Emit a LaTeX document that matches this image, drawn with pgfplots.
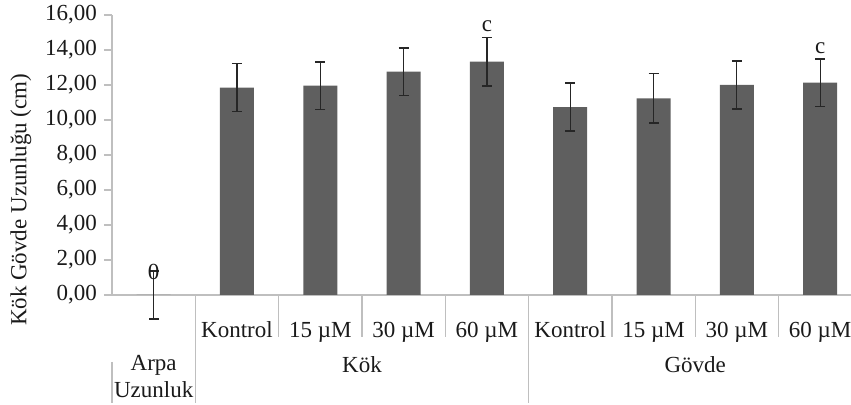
\documentclass[border=0pt]{standalone}
\usepackage{pgfplots}
\pgfplotsset{compat=1.18}
\usepackage{fontspec}
\setmainfont{Liberation Serif}
\definecolor{barc}{HTML}{5F5F5F}
\definecolor{gridc}{HTML}{BFBFBF}
\definecolor{txt}{HTML}{1A1A1A}
\begin{document}
\begin{tikzpicture}[font=\fontsize{11.5}{13.5}\selectfont, text=txt]
\begin{axis}[
  scale only axis, width=369.5pt, height=140pt,
  xmin=-0.5, xmax=8.37, ymin=0, ymax=16,
  clip=false,
  axis x line=bottom, axis y line=left,
  axis line style={-, draw=gridc, line width=0.6pt},
  ytick={0,2,...,16},
  tick align=outside, major tick length=4pt,
  ytick style={draw=gridc, line width=0.6pt},
  xtick={1,...,8},
  xticklabels={Kontrol,15 µM,30 µM,60 µM,Kontrol,15 µM,30 µM,60 µM},
  xtick style={draw=none},
  xticklabel style={anchor=base, yshift=-17.5pt},
  /pgf/number format/assume math mode=true,
  yticklabel style={/pgf/number format/fixed, /pgf/number format/fixed zerofill, /pgf/number format/precision=2, /pgf/number format/use comma},
  ylabel={Kök Gövde Uzunluğu (cm)},
  ylabel style={at={(ticklabel cs:0.34)}},
  ybar=0pt, bar width=17pt,
]
\coordinate (bl) at (rel axis cs:0,0);
\addplot[fill=barc, draw=none,
  error bars/.cd, y dir=both, y explicit,
  error bar style={draw=black!85, line width=0.6pt},
  error mark options={rotate=90, mark size=2.5pt, draw=black!85, line width=0.6pt}]
  table[x=x, y=y, y error=e] {
x y e
0 0 1.37
1 11.85 1.36
2 11.96 1.35
3 12.76 1.35
4 13.33 1.39
5 10.74 1.37
6 11.24 1.41
7 12.00 1.37
8 12.13 1.36
};
\node at (axis cs:0,1.31) {0};
\node[anchor=south, inner sep=2.5pt] at (axis cs:4,14.72) {c};
\node[anchor=south, inner sep=2.5pt] at (axis cs:8,13.49) {c};
% category separators
\pgfplotsinvokeforeach{1.5,2.5,3.5,5.5,6.5,7.5}{
  \draw[gridc, line width=0.6pt] (axis cs:#1,0) -- ++(0pt,-21pt);
}
\pgfplotsinvokeforeach{0.5,4.5}{
  \draw[gridc, line width=0.6pt] (axis cs:#1,0) -- ++(0pt,-54pt);
}
\draw[gridc, line width=0.6pt] ([yshift=-33.5pt]axis cs:-0.5,0) -- ++(0pt,-20.5pt);
% group labels
\node[anchor=base, yshift=-39pt] at (axis cs:2.5,0) {Kök};
\node[anchor=base, yshift=-39pt] at (axis cs:6.5,0) {Gövde};
\node[anchor=base, yshift=-38pt] at (axis cs:0,0) {Arpa};
\node[anchor=base, yshift=-51.5pt] at (axis cs:0,0) {Uzunluk};
\end{axis}
\pgfresetboundingbox
\path (bl) ++(-56pt,-55pt) rectangle ++(425.5pt,202.5pt);
\end{tikzpicture}
\end{document}
